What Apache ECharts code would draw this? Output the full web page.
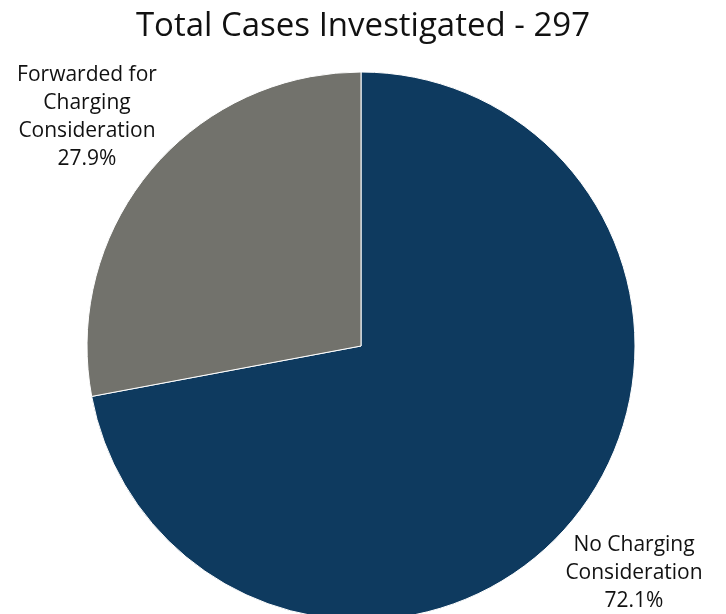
<!DOCTYPE html>
<html>
<head>
<meta charset="utf-8">
<script src="https://cdn.jsdelivr.net/npm/echarts@6/dist/echarts.min.js"></script>
<style>
  html, body { margin: 0; padding: 0; background: #fff; }
  #main { width: 726px; height: 614px; }
</style>
</head>
<body>
<div id="main"></div>
<script>
// data
var categories = ['No Charging\nConsideration', 'Forwarded for\nCharging\nConsideration'];
var caseCounts = [214, 83];
var sliceColors = ['#0E3A5F', '#72726C'];
var titleText = 'Total Cases Investigated - 297';

var chart = echarts.init(document.getElementById('main'));

var total = 0;
var pieData = [];
for (var i = 0; i < categories.length; i++) {
  total += caseCounts[i];
  pieData.push({ name: categories[i], value: caseCounts[i], itemStyle: { color: sliceColors[i] } });
}

// where each label block sits (centre x, top y)
var labelSpots = [
  { x: 634, y: 531 },
  { x: 87, y: 61 }
];

var option = {
  backgroundColor: '#fff',
  animation: false,
  title: {
    text: titleText,
    left: 'center',
    top: 5,
    textStyle: {
      fontFamily: 'Open Sans',
      fontWeight: 'normal',
      fontSize: 33,
      color: '#111'
    }
  },
  series: [{
    type: 'pie',
    center: [361, 346],
    radius: 274,
    startAngle: 90,
    clockwise: true,
    data: pieData,
    itemStyle: { borderColor: '#fff', borderWidth: 1 },
    label: {
      show: true,
      position: 'outside',
      overflow: 'none',
      width: 300,
      formatter: function (p) { return p.name + '\n' + (p.value / total * 100).toFixed(1) + '%'; },
      fontFamily: 'Open Sans',
      fontSize: 21,
      lineHeight: 28,
      color: '#111',
      align: 'center'
    },
    labelLine: { show: false },
    labelLayout: function (params) {
      var s = labelSpots[params.dataIndex];
      return { x: s.x, y: s.y, align: 'center', verticalAlign: 'top' };
    }
  }]
};

chart.setOption(option);
</script>
</body>
</html>
